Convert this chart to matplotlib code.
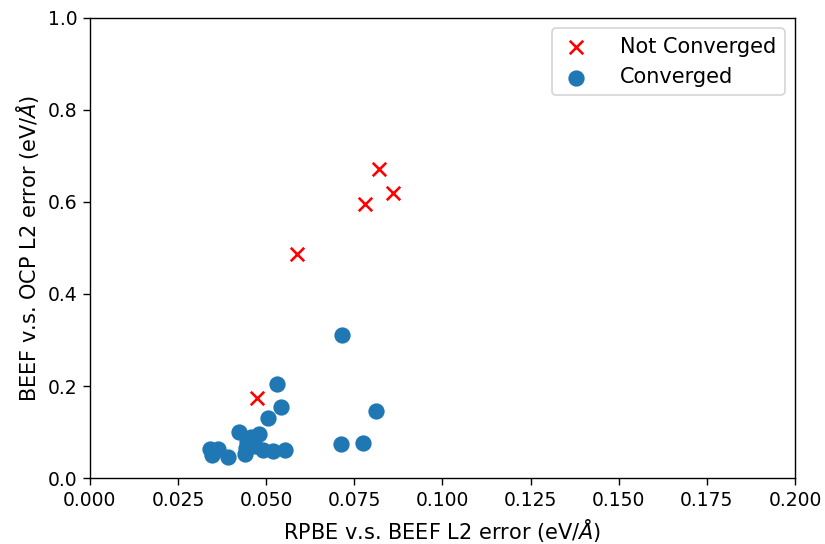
import matplotlib
matplotlib.use("Agg")
import matplotlib.pyplot as plt

nc_x = [0.0474, 0.0587, 0.0780, 0.0820, 0.0860]
nc_y = [0.174, 0.487, 0.595, 0.672, 0.620]

c_x = [0.0715, 0.0530, 0.0542, 0.0505, 0.0811, 0.0423, 0.0479, 0.0457, 0.0445,
       0.0443, 0.0440, 0.0491, 0.0519, 0.0553, 0.0340, 0.0363, 0.0346, 0.0391,
       0.0712, 0.0774, 0.0468]
c_y = [0.311, 0.204, 0.154, 0.130, 0.146, 0.100, 0.096, 0.089, 0.078,
       0.065, 0.052, 0.061, 0.059, 0.061, 0.063, 0.064, 0.051, 0.045,
       0.074, 0.076, 0.070]

fig = plt.figure(figsize=(6.6, 4.352), dpi=125)
ax = fig.add_axes([0.109, 0.1213, 0.8546, 0.8457])
ax.scatter(nc_x, nc_y, marker='x', color='red', s=60, label='Not Converged', zorder=3)
ax.scatter(c_x, c_y, marker='o', color='#1f77b4', s=70, label='Converged', zorder=2)
ax.set_xlim(0, 0.2)
ax.set_ylim(0, 1.0)
ax.tick_params(labelsize=10.8, length=3.8)
ax.set_xlabel(r'RPBE v.s. BEEF L2 error (eV/$\mathit{\AA}$)', fontsize=12)
ax.set_ylabel(r'BEEF v.s. OCP L2 error (eV/$\mathit{\AA}$)', fontsize=12)
ax.legend(loc='upper right', fontsize=12, handlelength=1.5, handletextpad=1.35)
fig.savefig('out.png', dpi=125)
